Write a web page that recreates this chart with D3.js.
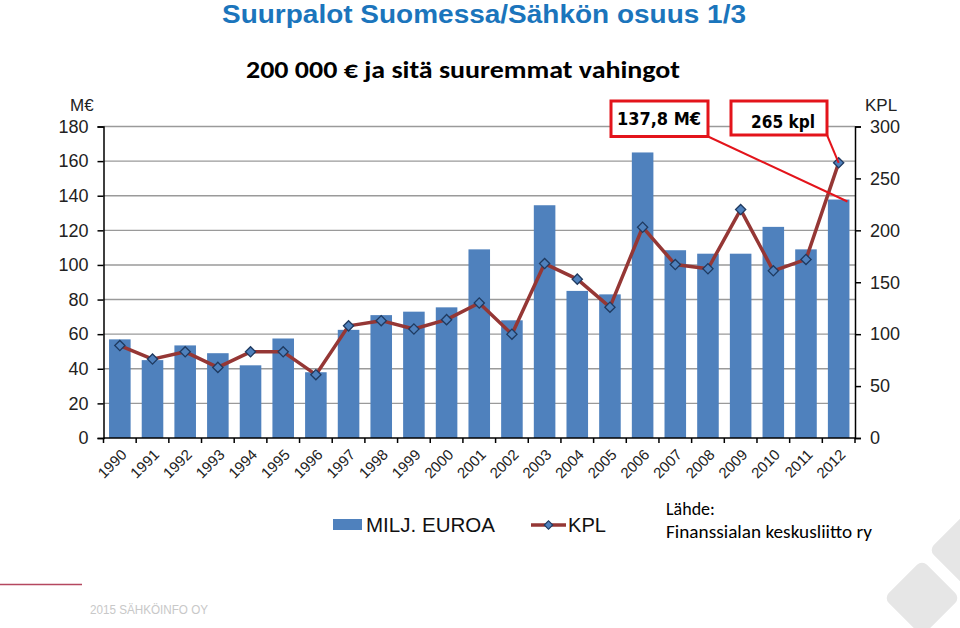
<!DOCTYPE html>
<html><head><meta charset="utf-8">
<script src="https://cdn.jsdelivr.net/npm/d3@7"></script>
<style>
body{margin:0;background:#fff;}
svg{display:block;}
text{font-family:"Liberation Sans",Arial,sans-serif;}
</style></head>
<body><svg id="c" width="960" height="628"></svg>
<script>
const years = ["1990","1991","1992","1993","1994","1995","1996","1997","1998","1999","2000","2001","2002","2003","2004","2005","2006","2007","2008","2009","2010","2011","2012"];
const miljEuroa = [57,45,53.5,49,42,57.5,38,62.5,71,73,75.5,109,68,134.5,85,83,165,108.5,106.5,106.5,122,109,137.8];
const kpl = [89,76,83,68,83,83,61,108,113,105,114,130,100,168,153,126,203,167,163,220,161,172,265];
const leftTicks = [0,20,40,60,80,100,120,140,160,180];
const rightTicks = [0,50,100,150,200,250,300];
const seriesNames = ["MILJ. EUROA","KPL"];
const annotations = ["137,8 M€","265 kpl"];

const svg = d3.select("#c");
const barColor = "#4F81BD", lineColor = "#953735", markStroke = "#1F3A60";
const L = 103.5, R = 855, B = 438, T = 126.5;

const x = d3.scaleBand().domain(years).range([L, R]).paddingInner(0.34).paddingOuter(0.17);
const yL = d3.scaleLinear().domain([0,180]).range([B,T]);
const yR = d3.scaleLinear().domain([0,300]).range([B,T]);
const cx = d => x(d) + x.bandwidth()/2;

// titles
svg.append("text").attr("x",484).attr("y",23).attr("text-anchor","middle")
  .attr("font-family","'Liberation Sans Narrow','Arial Narrow',sans-serif")
  .attr("font-weight","bold").attr("font-size",26).attr("fill","#1B75BC")
  .attr("textLength",524).attr("lengthAdjust","spacingAndGlyphs")
  .text("Suurpalot Suomessa/Sähkön osuus 1/3");
svg.append("text").attr("x",463).attr("y",78).attr("text-anchor","middle")
  .style("font-family","Carlito,Lato,sans-serif")
  .attr("font-weight","bold").attr("font-size",25).attr("fill","#000")
  .attr("textLength",434).attr("lengthAdjust","spacingAndGlyphs")
  .text("200 000 € ja sitä suuremmat vahingot");

// gridlines
svg.append("g").selectAll("line").data(leftTicks.filter(d=>d>0)).join("line")
  .attr("x1",L).attr("x2",R).attr("y1",d=>yL(d)).attr("y2",d=>yL(d))
  .attr("stroke","#9a9a9a").attr("stroke-width",1.4);

// bars
svg.append("g").selectAll("rect").data(years).join("rect")
  .attr("x",d=>x(d)).attr("width",x.bandwidth())
  .attr("y",(d,i)=>yL(miljEuroa[i])).attr("height",(d,i)=>B-yL(miljEuroa[i]))
  .attr("fill",barColor);

// axes
const gl = svg.append("g").attr("transform",`translate(${L},0)`)
  .call(d3.axisLeft(yL).tickValues(leftTicks).tickSize(6).tickPadding(9));
const gr = svg.append("g").attr("transform",`translate(${R},0)`)
  .call(d3.axisRight(yR).tickValues(rightTicks).tickSize(6).tickPadding(9));
[gl,gr].forEach(g=>{
  g.select(".domain").attr("stroke","#000").attr("stroke-width",1.5);
  g.selectAll(".tick line").attr("stroke","#000").attr("stroke-width",1.5);
  g.selectAll(".tick text").attr("font-size",18).attr("fill","#222")
    .style("font-family","'Liberation Sans',Arial,sans-serif");
});
// bottom axis line and boundary ticks
svg.append("line").attr("x1",L).attr("x2",R).attr("y1",B).attr("y2",B)
  .attr("stroke","#000").attr("stroke-width",1.5);
const bounds = years.map(d=>x(d)-(x.step()-x.bandwidth())/2).concat([R]);
svg.append("g").selectAll("line").data(bounds).join("line")
  .attr("x1",d=>d).attr("x2",d=>d).attr("y1",B).attr("y2",B+5)
  .attr("stroke","#000").attr("stroke-width",1.5);
svg.append("g").selectAll("text").data(years).join("text")
  .attr("transform",d=>`translate(${cx(d)+4},${B+14}) rotate(-45)`)
  .attr("text-anchor","end").attr("dy","0.35em")
  .attr("font-size",15).attr("fill","#222").text(d=>d);

// axis unit labels
svg.append("text").attr("x",70).attr("y",111).attr("font-size",17).attr("fill","#222").text("M€");
svg.append("text").attr("x",865).attr("y",111).attr("font-size",17).attr("fill","#222").text("KPL");

// line + markers
const line = d3.line().x((d,i)=>cx(years[i])).y(d=>yR(d));
svg.append("path").datum(kpl).attr("d",line).attr("fill","none")
  .attr("stroke",lineColor).attr("stroke-width",3.5).attr("stroke-linejoin","round");
const sq = d3.symbol().type(d3.symbolSquare).size(52);
svg.append("g").selectAll("path").data(kpl).join("path")
  .attr("d",sq).attr("transform",(d,i)=>`translate(${cx(years[i])},${yR(d)}) rotate(45)`)
  .attr("fill",barColor).attr("stroke",markStroke).attr("stroke-width",1.3);

// annotations
const last = years.length-1;
const red = "#E3141B";
svg.append("line").attr("x1",708).attr("y1",136.5)
  .attr("x2",x(years[last])+x.bandwidth()-2).attr("y2",yL(miljEuroa[last])+2)
  .attr("stroke",red).attr("stroke-width",2);
svg.append("line").attr("x1",827).attr("y1",135)
  .attr("x2",cx(years[last])).attr("y2",yR(kpl[last]))
  .attr("stroke",red).attr("stroke-width",2);
svg.append("rect").attr("x",611).attr("y",101).attr("width",97).attr("height",35.5)
  .attr("fill","#fff").attr("stroke",red).attr("stroke-width",3);
svg.append("rect").attr("x",731).attr("y",101).attr("width",96).attr("height",34)
  .attr("fill","#fff").attr("stroke",red).attr("stroke-width",3);
svg.append("text").attr("x",659).attr("y",125).attr("text-anchor","middle")
  .style("font-family","'DejaVu Sans',sans-serif").attr("font-weight","bold").attr("font-size",17)
  .attr("textLength",84).attr("lengthAdjust","spacingAndGlyphs").text(annotations[0]);
svg.append("text").attr("x",783).attr("y",128).attr("text-anchor","middle")
  .style("font-family","'DejaVu Sans',sans-serif").attr("font-weight","bold").attr("font-size",17)
  .attr("textLength",64).attr("lengthAdjust","spacingAndGlyphs").text(annotations[1]);

// legend
svg.append("rect").attr("x",333).attr("y",519).attr("width",29).attr("height",11).attr("fill",barColor);
svg.append("text").attr("x",366).attr("y",532).attr("font-size",20).attr("fill","#111")
  .attr("textLength",129).attr("lengthAdjust","spacingAndGlyphs").text(seriesNames[0]);
svg.append("line").attr("x1",531).attr("x2",566).attr("y1",525).attr("y2",525)
  .attr("stroke",lineColor).attr("stroke-width",3.5);
svg.append("path").attr("d",d3.symbol().type(d3.symbolSquare).size(36))
  .attr("transform","translate(548.5,525) rotate(45)")
  .attr("fill",barColor).attr("stroke",markStroke).attr("stroke-width",1.2);
svg.append("text").attr("x",568).attr("y",532).attr("font-size",20).attr("fill","#111")
  .attr("textLength",38).attr("lengthAdjust","spacingAndGlyphs").text(seriesNames[1]);

// source
svg.append("text").attr("x",666).attr("y",515).style("font-family","Carlito,Lato,sans-serif")
  .attr("font-size",18).attr("fill","#000").text("Lähde:");
svg.append("text").attr("x",666).attr("y",538).style("font-family","Carlito,Lato,sans-serif")
  .attr("font-size",18).attr("fill","#000")
  .attr("textLength",206).attr("lengthAdjust","spacingAndGlyphs").text("Finanssialan keskusliitto ry");

// footer
svg.append("line").attr("x1",0).attr("x2",82).attr("y1",584.5).attr("y2",584.5)
  .attr("stroke","#B5475F").attr("stroke-width",1.5);
svg.append("text").attr("x",90).attr("y",614).attr("font-size",12.5).attr("fill","#c8c8c8")
  .attr("textLength",118).attr("lengthAdjust","spacingAndGlyphs")
  .text("2015 SÄHKÖINFO OY");

// decorative diamonds
const deco = svg.append("g").attr("fill","#e6e6e6");
deco.append("rect").attr("x",-27).attr("y",-27).attr("width",54).attr("height",54).attr("rx",7)
  .attr("transform","translate(967,550) rotate(45)");
deco.append("rect").attr("x",-27).attr("y",-27).attr("width",54).attr("height",54).attr("rx",7)
  .attr("transform","translate(922,598) rotate(45)");
</script></body></html>
